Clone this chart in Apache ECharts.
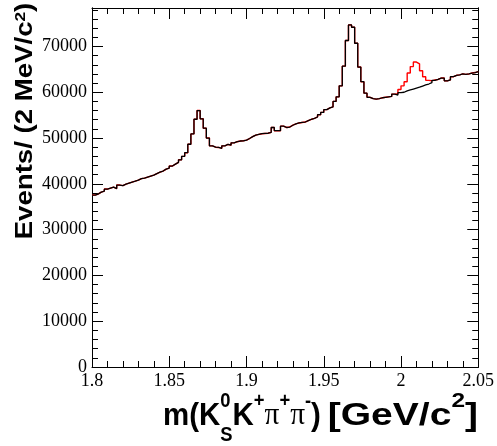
<!DOCTYPE html>
<html>
<head>
<meta charset="utf-8">
<script src="https://cdn.jsdelivr.net/npm/echarts@6/dist/echarts.min.js"></script>
<style>
  html, body { margin: 0; padding: 0; background: #ffffff; }
  #chart { width: 497px; height: 446px; }
</style>
</head>
<body>
<div id="chart"></div>
<script>
// Invariant-mass histogram: 2 MeV/c^2 bins from 1.80 to 2.05 GeV/c^2
const binStart = 1.8;
const binWidth = 0.002;

const xTicks = [1.8, 1.85, 1.9, 1.95, 2.0, 2.05];
const yTicks = [0, 10000, 20000, 30000, 40000, 50000, 60000, 70000];

// Black histogram (125 bins)
const blackCounts = [
  37550, 37770, 38200, 38420, 38860, 39080, 39300, 38970, 39730, 39620,
  39950, 40170, 40390, 40600, 40820, 41150, 41260, 41480, 41700, 41910,
  42240, 42570, 42790, 43220, 43440, 43880, 44310, 44700, 45250, 46000,
  46800, 48650, 50900, 54100, 56000, 54200, 52150, 50000, 48300, 48000,
  47950, 47750, 48300, 48600, 48450, 48950, 49200, 49350, 49400, 49550,
  49900, 50300, 50650, 50800, 50950, 51000, 51050, 51250, 52300, 51600,
  51600, 52600, 52300, 52400, 52800, 53100, 53300, 53400, 53500, 53800,
  54100, 54300, 54600, 55100, 55600, 56200, 56600, 56800, 58000, 59000,
  61400, 65700, 71300, 74700, 74200, 70700, 65500, 62300, 59800, 58900,
  58600, 58500, 58600, 58800, 58900, 59000, 59100, 59600, 59400, 59900,
  60000, 60300, 60500, 60700, 60900, 61100, 61350, 61600, 61800, 62100,
  62600, 62800, 63100, 63100, 62500, 62700, 63400, 63700, 63800, 64000,
  63900, 64000, 64200, 64300, 64500
];

// Red histogram (125 bins)
const redCounts = [
  37550, 37770, 38200, 38420, 38860, 39080, 39300, 38970, 39730, 39620,
  39950, 40170, 40390, 40600, 40820, 41150, 41260, 41480, 41700, 41910,
  42240, 42570, 42790, 43220, 43440, 43880, 44310, 44700, 45250, 46000,
  46800, 48650, 50900, 54100, 56000, 54200, 52150, 50000, 48300, 48000,
  47950, 47750, 48300, 48600, 48450, 48950, 49200, 49350, 49400, 49550,
  49900, 50300, 50650, 50800, 50950, 51000, 51050, 51250, 52300, 51600,
  51600, 52600, 52300, 52400, 52800, 53100, 53300, 53400, 53500, 53800,
  54100, 54300, 54600, 55100, 55600, 56200, 56600, 56800, 58000, 59000,
  61400, 65700, 71300, 74700, 74200, 70700, 65500, 62300, 59800, 58900,
  58600, 58500, 58600, 58800, 58900, 59000, 59100, 59600, 59700, 60600,
  61400, 62300, 64200, 65600, 66600, 66200, 64700, 63400, 62600, 62500,
  62700, 62800, 63100, 63100, 62500, 62700, 63400, 63700, 63800, 64000,
  63900, 64000, 64200, 64300, 64500
];

const yMax = 78400;

// Step outline: one point per lower bin edge plus the closing upper edge
function histPoints(counts) {
  const pts = counts.map((c, i) => [+(binStart + i * binWidth).toFixed(3), c]);
  pts.push([+(binStart + counts.length * binWidth).toFixed(3), counts[counts.length - 1]]);
  return pts;
}

const chart = echarts.init(document.getElementById('chart'), null, { renderer: 'canvas' });

const black = '#000000';
const tickFont = { fontFamily: 'Liberation Serif', fontSize: 18, color: black };

function xAxisDef(pos, showLabels) {
  return {
    type: 'value', position: pos, min: xTicks[0], max: xTicks[xTicks.length - 1], interval: 0.05,
    axisLine: { show: true, onZero: false, lineStyle: { color: black, width: 1 } },
    axisTick: { show: true, inside: true, length: 11, lineStyle: { color: black, width: 1 } },
    minorTick: { show: true, splitNumber: 5, length: 6, lineStyle: { color: black, width: 1 } },
    splitLine: { show: false }, minorSplitLine: { show: false },
    axisLabel: Object.assign({
      show: showLabels, margin: 5,
      formatter: v => { const t = xTicks.find(k => Math.abs(k - v) < 1e-6); return t === undefined ? '' : String(t); }
    }, tickFont)
  };
}

function yAxisDef(pos, interval, tickLen, showLabels) {
  return {
    type: 'value', position: pos, min: 0, max: yMax, interval: interval,
    axisLine: { show: true, onZero: false, lineStyle: { color: black, width: 1 } },
    axisTick: { show: true, inside: true, length: tickLen, lineStyle: { color: black, width: 1 } },
    splitLine: { show: false },
    axisLabel: Object.assign({
      show: showLabels, margin: 5, showMaxLabel: false,
      formatter: v => yTicks.includes(v) ? String(v) : ''
    }, tickFont)
  };
}

// Canvas text measurement for laying out the x-axis title pieces
const measureCtx = document.createElement('canvas').getContext('2d');
function textWidth(str, font) { measureCtx.font = font; return measureCtx.measureText(str).width; }

const boldFont = s => `bold ${s}px "Liberation Sans"`;
const serifFont = s => `${s}px "Liberation Serif"`;
const baseY = 427;

// Title run: each piece has its own size, face and horizontal scale
function piece(t, size, kind, opts) {
  return Object.assign({ t: t, size: size, kind: kind, serif: false, sx: 1 }, opts || {});
}

function pieceWidth(p) {
  const f = p.serif ? serifFont(p.size) : boldFont(p.size);
  let w = textWidth(p.t, f);
  if (p.sub) w = Math.max(w, textWidth(p.sub, f));
  return w * p.sx;
}

function layoutRun(pieces, startX) {
  const els = [];
  let x = startX;
  const mk = (text, px, baseline, p) => ({
    type: 'text', x: px, y: baseline - 0.35 * p.size, scaleX: p.sx, silent: true,
    style: {
      text: text, fill: black, align: 'left', verticalAlign: 'middle',
      fontSize: p.size, fontFamily: p.serif ? 'Liberation Serif' : 'Liberation Sans',
      fontWeight: p.serif ? 'normal' : 'bold'
    }
  });
  pieces.forEach(p => {
    if (p.kind === 'main') els.push(mk(p.t, x, baseY, p));
    else if (p.kind === 'sup') els.push(mk(p.t, x, baseY - 19, p));
    else if (p.kind === 'stack') { els.push(mk(p.t, x, baseY - 19, p)); els.push(mk(p.sub, x, baseY + 15, p)); }
    x += pieceWidth(p);
  });
  return els;
}

function runWidth(pieces) {
  return pieces.reduce((a, p) => a + pieceWidth(p), 0);
}

const s1 = 0.92;
const massRun = [
  piece('m(K', 32, 'main', { sx: s1 }),
  piece('0', 20, 'stack', { sub: 'S', sx: s1 }),
  piece('K', 32, 'main', { sx: s1 }),
  piece('+', 20, 'sup', { sx: s1 }),
  piece('π', 32, 'main', { serif: true, sx: s1 }),
  piece('+', 20, 'sup', { sx: s1 }),
  piece('π', 32, 'main', { serif: true, sx: s1 }),
  piece('-', 20, 'sup', { sx: s1 }),
  piece(')', 32, 'main', { sx: s1 })
];
const s2 = 1.22;
const unitRun = [
  piece('[GeV/c', 32, 'main', { sx: s2 }),
  piece('2', 20, 'sup', { sx: s2 }),
  piece(']', 32, 'main', { sx: s2 })
];

const massEls = layoutRun(massRun, 163);
const unitEls = layoutRun(unitRun, 478 - runWidth(unitRun));

const option = {
  animation: false,
  backgroundColor: '#ffffff',
  grid: { left: 92, right: 18, top: 8, bottom: 79, containLabel: false },
  xAxis: [xAxisDef('bottom', true), xAxisDef('top', false)],
  yAxis: [
    yAxisDef('left', 10000, 11, true),
    yAxisDef('left', 2000, 6, false),
    yAxisDef('right', 10000, 11, false),
    yAxisDef('right', 2000, 6, false)
  ],
  series: [
    {
      type: 'line', step: 'end', xAxisIndex: 0, yAxisIndex: 0,
      symbol: 'none', showSymbol: false, silent: true, z: 2,
      lineStyle: { color: '#ff0000', width: 1.4 },
      data: histPoints(redCounts)
    },
    {
      type: 'line', step: 'end', xAxisIndex: 0, yAxisIndex: 0,
      symbol: 'none', showSymbol: false, silent: true, z: 3,
      lineStyle: { color: '#000000', width: 1.3 },
      data: histPoints(blackCounts)
    }
  ],
  graphic: [
    {
      type: 'text', x: 25, y: 121, rotation: Math.PI / 2, scaleX: 1.15, silent: true,
      style: {
        text: '{a|Events/ (2 MeV/c}{s|2}{a|)}',
        align: 'center', verticalAlign: 'middle',
        rich: {
          a: { fontFamily: 'Liberation Sans', fontWeight: 'bold', fontSize: 24, fill: black },
          s: { fontFamily: 'Liberation Sans', fontWeight: 'bold', fontSize: 15, fill: black, verticalAlign: 'top' }
        }
      }
    }
  ].concat(massEls, unitEls)
};

chart.setOption(option);
</script>
</body>
</html>
